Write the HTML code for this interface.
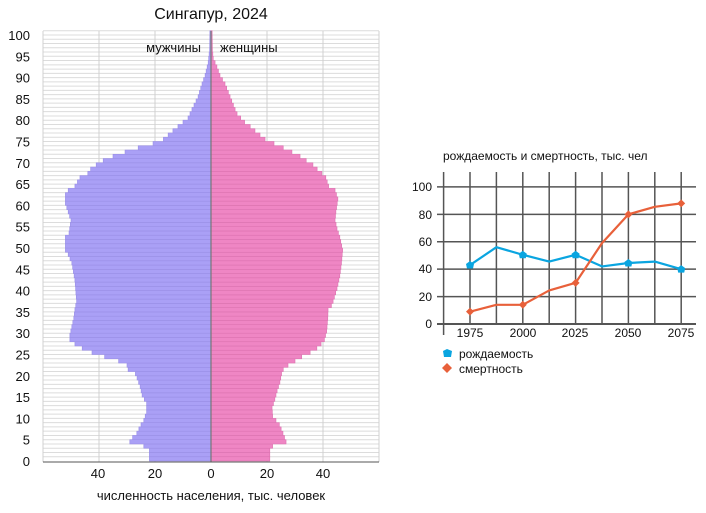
<!DOCTYPE html>
<html><head><meta charset="utf-8"><style>
html,body{margin:0;padding:0;background:#fff;width:706px;height:513px;overflow:hidden}
svg{display:block;font-family:"Liberation Sans",sans-serif}
</style></head><body>
<svg id="s" width="706" height="513" viewBox="0 0 706 513" xmlns="http://www.w3.org/2000/svg">
<g id="bg"></g>
<g id="bars"></g>
<text x="211" y="19" font-size="16" text-anchor="middle" fill="#111">Сингапур, 2024</text>
<text x="201" y="52" font-size="13" text-anchor="end" fill="#111">мужчины</text>
<text x="220" y="52" font-size="13" fill="#111">женщины</text>
<g font-size="13" fill="#111" text-anchor="end" id="ylab"></g>
<line x1="43" y1="462" x2="379" y2="462" stroke="#555" stroke-width="1"/>
<g font-size="13" fill="#111" text-anchor="middle">
<text x="98" y="478">40</text><text x="155" y="478">20</text><text x="211" y="478">0</text><text x="267" y="478">20</text><text x="323" y="478">40</text>
</g>
<text x="211" y="500" font-size="13" text-anchor="middle" fill="#111">численность населения, тыс. человек</text>

<text x="443" y="160" font-size="12" fill="#111">рождаемость и смертность, тыс. чел</text>
<g id="rg" stroke="#555" stroke-width="1.5"></g>
<g font-size="12" fill="#111" text-anchor="end">
<text x="432" y="191">100</text><text x="432" y="219">80</text><text x="432" y="246">60</text><text x="432" y="273">40</text><text x="432" y="301">20</text><text x="432" y="328">0</text>
</g>
<g font-size="12" fill="#111" text-anchor="middle">
<text x="470" y="337">1975</text><text x="523" y="337">2000</text><text x="575" y="337">2025</text><text x="628" y="337">2050</text><text x="681" y="337">2075</text>
</g>
<g id="lines"></g>
<polygon points="447,349 452,351 451,357 444,357 443,351" fill="#0aa5e0"/>
<text x="459" y="358" font-size="12" fill="#111">рождаемость</text>
<polygon points="447,363 452,368 447,373 442,368" fill="#e8603a"/>
<text x="459" y="373" font-size="12" fill="#111">смертность</text>
</svg>
<script>
var NS="http://www.w3.org/2000/svg";
function el(p,t,a){var e=document.createElementNS(NS,t);for(var k in a)e.setAttribute(k,a[k]);p.appendChild(e);return e;}
function interp(pts,a){for(var i=0;i<pts.length-1;i++){if(a>=pts[i][0]&&a<=pts[i+1][0]){var t=(a-pts[i][0])/(pts[i+1][0]-pts[i][0]);return pts[i][1]+t*(pts[i+1][1]-pts[i][1]);}}return pts[pts.length-1][1];}
var M=[[0,22],[2,22],[3,24],[4,29],[5,28],[6,26.5],[8,25],[9,24],[11,23],[13,23],[15,24.6],[17,25.3],[19,26.4],[20,27],[21,29.6],[22,30],[23,33],[24,38],[25,42.5],[26,46],[27,48.6],[28,50.4],[29,50.4],[31,49.7],[33,49],[35,48.6],[37,48],[42,48.6],[46,49.7],[48,51],[49,52],[52,52],[53,50.7],[56,50],[58,51],[60,52],[62,52],[63,51],[64,48.6],[66,46.8],[67,44],[68,43],[69,41],[70,38.5],[71,35],[72,30.7],[73,26],[74,20.7],[75,17],[77,13.6],[78,11.8],[79,10],[80,8.2],[82,6.8],[85,4.6],[88,3.2],[90,2.1],[93,1],[96,0.5],[100,0.4]];
var F=[[0,21],[2,21],[3,22],[4,26.8],[6,25.7],[8,24.4],[10,22],[12,21.8],[14,22.8],[16,23.6],[18,24.6],[20,25.2],[21,25.8],[22,27.5],[23,30],[24,32.4],[25,35.4],[26,37.8],[27,39.3],[28,40.5],[30,41.3],[33,41.7],[35,41.8],[36,43],[37,43.6],[40,45],[43,46],[46,46.6],[49,47],[52,46],[54,45],[56,44.3],[58,44.6],[61,45.3],[63,44.3],[64,42],[66,41],[67,39.6],[68,37.9],[69,36.4],[70,34],[71,31.8],[72,28.9],[73,25.8],[74,22.5],[75,19.3],[76,17.5],[77,15.7],[78,14],[79,12],[80,10.6],[81,9.3],[82,8.6],[84,7.4],[86,6.2],[88,5],[90,3.2],[92,2.1],[94,0.8],[96,0.5],[100,0.4]];
var bg=document.getElementById("bg"),bars=document.getElementById("bars");
var h=4.26,base=461,k=2.8,cx=211;
for(var a=0;a<=100;a++){var y=base-h*(a+1);el(bg,"line",{x1:43,x2:379,y1:y,y2:y,stroke:"#dcdcdc","stroke-width":1});}
[43,99,155,267,323,379].forEach(function(x){el(bg,"line",{x1:x,x2:x,y1:31,y2:462,stroke:"#d0d0d0","stroke-width":1});});
for(var a=0;a<=100;a++){var y=base-h*(a+1);var m=interp(M,a)*k,f=interp(F,a)*k;
el(bars,"rect",{x:cx-m,y:y,width:m,height:h,fill:"#aaa0f6",stroke:"#9a8fe6","stroke-width":0.6});
el(bars,"rect",{x:cx,y:y,width:f,height:h,fill:"#ef86c4",stroke:"#dc73b0","stroke-width":0.6});}
el(bars,"line",{x1:cx,x2:cx,y1:31,y2:462,stroke:"#777","stroke-width":1.2});
var yl=document.getElementById("ylab");
for(var v=0;v<=100;v+=5){var t=el(yl,"text",{x:30,y:base-h*v+5});t.textContent=v;}
var rg=document.getElementById("rg");
[0,20,40,60,80,100].forEach(function(v){var y=324-v*1.371;el(rg,"line",{x1:437,x2:696,y1:y,y2:y});});
for(var i=-1;i<9;i++){var x=470+i*26.4;el(rg,"line",{x1:x,x2:x,y1:172,y2:i<0?335:324});}
el(rg,"line",{x1:437,x2:696,y1:324,y2:324,"stroke-width":2});
var L=document.getElementById("lines");
function px(i){return 470+i*26.4;}function py(v){return 324-v*1.371;}
var B=[43,56,50.5,45.5,50.5,42,44.5,45.5,40],D=[9,14,14,24.5,30,59,80,85.5,88];
function pl(d,c){el(L,"polyline",{points:d.map(function(v,i){return px(i)+","+py(v);}).join(" "),fill:"none",stroke:c,"stroke-width":2.2,"stroke-linejoin":"round"});}
pl(B,"#0aa5e0");pl(D,"#e8603a");
for(var i=0;i<9;i+=2){var x=px(i),y=py(B[i]);el(L,"polygon",{points:[x+","+(y-4),(x+4)+","+(y-1),(x+3)+","+(y+3.5),(x-3)+","+(y+3.5),(x-4)+","+(y-1)].join(" "),fill:"#0aa5e0"});
y=py(D[i]);el(L,"polygon",{points:[x+","+(y-4),(x+4)+","+y,x+","+(y+4),(x-4)+","+y].join(" "),fill:"#e8603a"});}
</script>
</body></html>
